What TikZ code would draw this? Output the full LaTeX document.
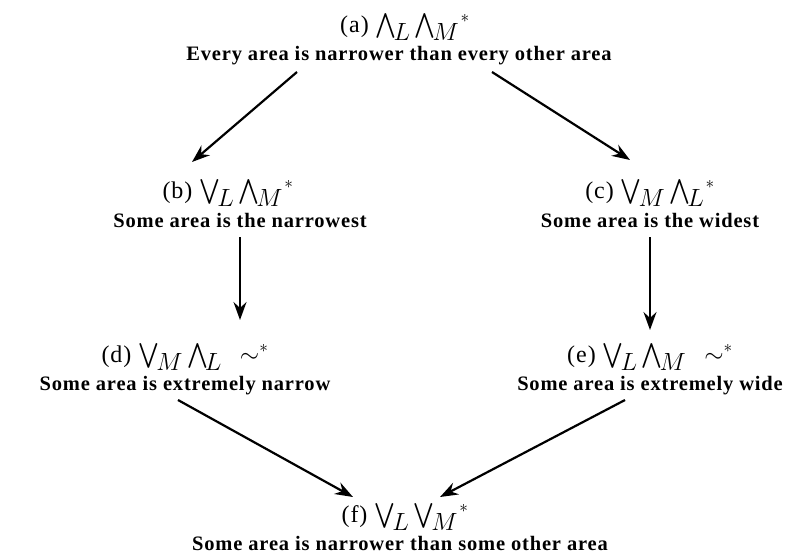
\documentclass[tikz,border=0pt]{standalone}
\usepackage{exscale}
\usepackage{fontspec}
\setmainfont{Liberation Serif}[LetterSpace=4]
\usetikzlibrary{arrows.meta}
\newcommand{\Wg}{\mathop{\textstyle\bigwedge}\nolimits}
\newcommand{\Vg}{\mathop{\textstyle\bigvee}\nolimits}
\newcommand{\sbx}[1]{_{\!\textstyle #1}}
\begin{document}
\begin{tikzpicture}[x=1pt,y=-1pt,
  ttl/.style={anchor=base, inner sep=0pt, font=\fontsize{24}{28}\selectfont},
  captxt/.style={anchor=base, inner sep=0pt, font=\fontsize{20.5}{24}\selectfont\bfseries},
  arr/.style={line width=2.2pt, -{Stealth[length=18pt,width=13pt,inset=6pt]}}]
\fill[white] (0,0) rectangle (794,554);
\useasboundingbox (0,0) rectangle (794,554);
\node[ttl] (at) at (405,32) {(a) $\Wg\sbx{L}\Wg\sbx{M}{}^{\!*}$};
\node[captxt] (ac) at (399,60) {Every area is narrower than every other area};
\node[ttl] (bt) at (228,198) {(b) $\Vg\sbx{L}\Wg\sbx{M}{}^{\!*}$};
\node[captxt] (bc) at (240,227) {Some area is the narrowest};
\node[ttl] (ct) at (650,198) {(c) $\Vg\sbx{M}\Wg\sbx{L}{}^{\!*}$};
\node[captxt] (cc) at (650,227) {Some area is the widest};
\node[ttl] (dt) at (185,362) {(d) $\Vg\sbx{M}\Wg\sbx{L}\;\;{\sim}{}^{*}$};
\node[captxt] (dc) at (185,390) {Some area is extremely narrow};
\node[ttl] (et) at (650,362) {(e) $\Vg\sbx{L}\Wg\sbx{M}\;\;{\sim}{}^{*}$};
\node[captxt] (ec) at (650,390) {Some area is extremely wide};
\node[ttl] (ft) at (405,522) {(f) $\Vg\sbx{L}\Vg\sbx{M}{}^{\!*}$};
\node[captxt] (fc) at (400,550) {Some area is narrower than some other area};
\draw[arr] ([xshift=-102pt,yshift=-12pt]ac.base) -- ([xshift=-36pt,yshift=36pt]bt.base);
\draw[arr] ([xshift=93pt,yshift=-12pt]ac.base) -- ([xshift=-20pt,yshift=38pt]ct.base);
\draw[arr] ([yshift=-10pt]bc.base) -- ([xshift=55pt,yshift=42pt]dt.base);
\draw[arr] ([yshift=-10pt]cc.base) -- ([yshift=32pt]et.base);
\draw[arr] ([xshift=-7pt,yshift=-10pt]dc.base) -- ([xshift=-52pt,yshift=25pt]ft.base);
\draw[arr] ([xshift=-25pt,yshift=-10pt]ec.base) -- ([xshift=35pt,yshift=25pt]ft.base);
\end{tikzpicture}
\end{document}
